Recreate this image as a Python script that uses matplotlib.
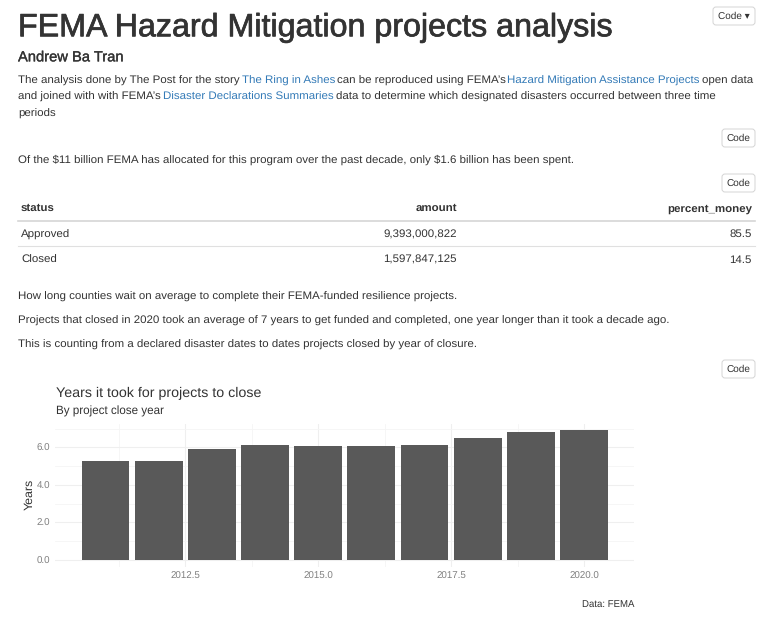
import matplotlib
matplotlib.use("Agg")
import matplotlib.pyplot as plt
import matplotlib.patheffects as pe
from matplotlib.patches import FancyBboxPatch

years = [2011, 2012, 2013, 2014, 2015, 2016, 2017, 2018, 2019, 2020]
avg_years = [5.27, 5.30, 5.91, 6.15, 6.09, 6.09, 6.15, 6.50, 6.80, 6.90]
x_ticks = [2012.5, 2015.0, 2017.5, 2020.0]
x_minor = [2011.25, 2013.75, 2016.25, 2018.75]
y_ticks = [0, 2, 4, 6]
y_minor = [1, 3, 5, 7]
table_header = ["status", "amount", "percent_money"]
table_status = ["Approved", "Closed"]
table_amount = ["9,393,000,822", "1,597,847,125"]
table_percent = ["85.5", "14.5"]

plt.rcParams["font.family"] = ["Liberation Sans", "DejaVu Sans"]
plt.rcParams["text.hinting"] = "none"
W, H = 771, 625
fig = plt.figure(figsize=(W / 100, H / 100), dpi=100)
bg = fig.add_axes([0, 0, 1, 1])
bg.set_xlim(0, W)
bg.set_ylim(H, 0)
bg.axis("off")

TXT = "#333333"
LINK = "#337ab7"
BODY = 8.26

def t(x, y, s, size=BODY, color=TXT, ha="left", stroke=0, **kw):
    txt = bg.text(x, y, s, fontsize=size, color=color, ha=ha, va="center", **kw)
    if stroke:
        txt.set_path_effects([pe.withStroke(linewidth=stroke, foreground=color)])

def button(x0, y0, x1, y1, label):
    bg.add_patch(FancyBboxPatch((x0 + 2, y0 + 2), x1 - x0 - 4, y1 - y0 - 4,
                                boxstyle="round,pad=2,rounding_size=3",
                                fc="white", ec="#d4d4d4", lw=0.7))
    t((x0 + x1) / 2, (y0 + y1) / 2 + 0.5, label, size=7.2, ha="center")

t(18, 28, "FEMA Hazard Mitigation projects analysis", size=23.2, stroke=0.5)
t(18, 57.5, "Andrew Ba Tran", size=10.6, stroke=0.2)

# First paragraph with links
t(18, 80.5, "The analysis done by The Post for the story")
t(241.5, 80.5, "The Ring in Ashes", color=LINK)
t(337, 80.5, "can be reproduced using FEMA\u2019s")
t(507, 80.5, "Hazard Mitigation Assistance Projects", color=LINK)
t(701.5, 80.5, "open data")
t(18, 97, "and joined with with FEMA\u2019s")
t(163, 97, "Disaster Declarations Summaries", color=LINK)
t(335.5, 97, "data to determine which designated disasters occurred between three time")
t(18, 113.5, "periods")

button(722, 129, 755, 147, "Code")
t(18, 159.5, "Of the \\$11 billion FEMA has allocated for this program over the past decade, only \\$1.6 billion has been spent.")
button(722, 174, 755, 192, "Code")
button(713, 7, 755, 25, "Code \u25be")

# Table
t(21, 208.5, table_header[0], weight="bold")
t(457, 208.5, table_header[1], weight="bold", ha="right")
t(752, 208.5, table_header[2], weight="bold", ha="right")
bg.plot([18, 755], [221, 221], color="#d6d6d6", lw=1.2)
bg.plot([18, 755], [246, 246], color="#e0e0e0", lw=0.8)
for i, ypix in enumerate([234.5, 260]):
    t(21, ypix, table_status[i])
    t(457, ypix, table_amount[i], ha="right")
    t(752, ypix, table_percent[i], ha="right")

t(18, 296.5, "How long counties wait on average to complete their FEMA-funded resilience projects.")
t(18, 320.5, "Projects that closed in 2020 took an average of 7 years to get funded and completed, one year longer than it took a decade ago.")
t(18, 344.5, "This is counting from a declared disaster dates to dates projects closed by year of closure.")
button(722, 360, 755, 378, "Code")

# Chart panel
L, R, TOP, BOT = 55.2, 634.3, 424, 566.5
ax = fig.add_axes([L / W, 1 - BOT / H, (R - L) / W, (BOT - TOP) / H])
ax.set_facecolor("none")
ax.bar(years, avg_years, width=0.9, color="#595959", zorder=3)
ax.set_xlim(2010.055, 2020.945)
ax.set_ylim(-0.345, 7.245)
ax.set_xticks(x_ticks)
ax.set_xticklabels([f"{v:.1f}" for v in x_ticks])
ax.set_xticks(x_minor, minor=True)
ax.set_yticks(y_ticks)
ax.set_yticklabels([f"{v:.1f}" for v in y_ticks])
ax.set_yticks(y_minor, minor=True)
ax.grid(True, which="major", color="#efefef", lw=0.8, zorder=0)
ax.grid(True, which="minor", color="#f5f5f5", lw=0.6, zorder=0)
ax.tick_params(which="both", length=0)
ax.tick_params(axis="both", labelsize=7, labelcolor="#808080", pad=3.5)
for s in ax.spines.values():
    s.set_visible(False)
ax.set_axisbelow(True)

t(55.5, 393, "Years it took for projects to close", size=10.3)
t(55.5, 411, "By project close year", size=8.4)
t(29.5, 494, "Years", size=8.9, ha="center", rotation=90)
t(634, 604, "Data: FEMA", size=6.9, ha="right")

fig.savefig("out.png", dpi=100)
